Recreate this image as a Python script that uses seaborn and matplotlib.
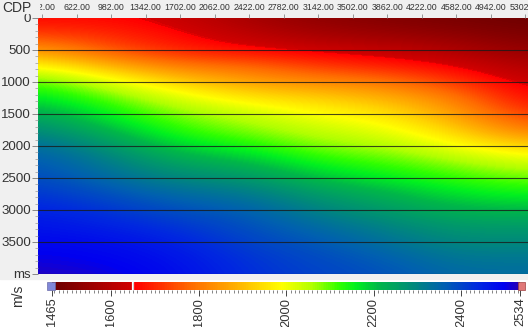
import numpy as np
import matplotlib
matplotlib.use("Agg")
import matplotlib.pyplot as plt
import seaborn as sns
from matplotlib.colors import LinearSegmentedColormap, Normalize
from matplotlib.patches import Rectangle
from matplotlib.ticker import MultipleLocator, FixedLocator

sns.set_theme(style="white")
plt.rcParams["font.family"] = ["Liberation Sans", "DejaVu Sans"]

# Velocity section: CDP columns x two-way time rows (ms), values in m/s
cdp = [262, 982, 1702, 2422, 3142, 3862, 4582, 5302]
time_ms = [0, 250, 500, 750, 1000, 1250, 1500, 1750, 2000,
           2250, 2500, 2750, 3000, 3250, 3500, 3750, 4000]
velocity = np.array([
    [1660, 1660, 1630, 1570, 1530, 1510, 1490, 1475],
    [1730, 1700, 1660, 1610, 1570, 1550, 1530, 1500],
    [1850, 1750, 1690, 1660, 1640, 1620, 1590, 1540],
    [1990, 1890, 1800, 1780, 1720, 1690, 1650, 1590],
    [2110, 2020, 1930, 1860, 1830, 1800, 1720, 1630],
    [2170, 2100, 2020, 1960, 1930, 1890, 1810, 1660],
    [2240, 2150, 2080, 2040, 1990, 1960, 1860, 1720],
    [2290, 2210, 2120, 2080, 2040, 2010, 1930, 1800],
    [2340, 2270, 2180, 2140, 2080, 2060, 2000, 1930],
    [2370, 2310, 2240, 2210, 2140, 2110, 2070, 2030],
    [2390, 2340, 2290, 2270, 2200, 2160, 2120, 2090],
    [2420, 2380, 2340, 2320, 2260, 2220, 2170, 2150],
    [2450, 2420, 2380, 2360, 2300, 2260, 2220, 2210],
    [2470, 2450, 2420, 2380, 2340, 2300, 2260, 2260],
    [2490, 2480, 2450, 2400, 2370, 2330, 2290, 2290],
    [2505, 2495, 2470, 2420, 2390, 2360, 2320, 2320],
    [2525, 2510, 2480, 2430, 2400, 2380, 2340, 2340],
])

vmin, vmax = 1465, 2534
cbar_ticks = [1465, 1600, 1800, 2000, 2200, 2400, 2534]
time_ticks = [0, 500, 1000, 1500, 2000, 2500, 3000, 3500, 4000]
time_labels = ["0", "500", "1000", "1500", "2000", "2500", "3000", "3500", "ms"]
cdp_ticks = [262, 622, 982, 1342, 1702, 2062, 2422, 2782, 3142,
             3502, 3862, 4222, 4582, 4942, 5302]

# Seismic velocity palette: dark red -> red -> orange -> yellow -> green -> teal -> blue
palette_stops = [
    (1465, "#6a0000"), (1648, "#d20000"), (1653, "#ff0000"),
    (1705, "#ff2a00"), (1780, "#ff6a00"), (1890, "#ffb400"),
    (1990, "#ffff00"), (2060, "#b0ff00"), (2120, "#30ff00"),
    (2160, "#00f020"), (2210, "#00b848"), (2290, "#008a7a"),
    (2360, "#0060b0"), (2440, "#0028e0"), (2500, "#0000f0"),
    (2534, "#2a00b0"),
]
cmap = LinearSegmentedColormap.from_list(
    "velocity", [((v - vmin) / (vmax - vmin), c) for v, c in palette_stops])
norm = Normalize(vmin, vmax)

W, H = 528, 327
BG = "#f0f0f0"
fig = plt.figure(figsize=(W / 100, H / 100), dpi=100, facecolor="white")

# light panel behind the section
fig.patches.append(Rectangle((0, (H - 279) / H), 1, 279 / H,
                             transform=fig.transFigure, color=BG, zorder=-5))

ax = fig.add_axes([38 / W, (H - 274) / H, 490 / W, 256 / H])
ax.set_zorder(2)
dx = cdp[1] - cdp[0]
dt = time_ms[1] - time_ms[0]
ax.imshow(velocity, cmap=cmap, norm=norm, aspect="auto", interpolation="bicubic",
          extent=[cdp[0] - dx / 2, cdp[-1] + dx / 2, time_ms[-1] + dt / 2, time_ms[0] - dt / 2])
ax.set_xlim(220, 5330)
ax.set_ylim(4000, 0)
for t in time_ticks[1:]:
    ax.axhline(t, color="#1a1a1a", lw=0.8, alpha=0.8)

for s in ax.spines.values():
    s.set_visible(False)

ax.xaxis.tick_top()
ax.set_xticks(cdp_ticks)
ax.set_xticklabels([f"{c:.2f}" for c in cdp_ticks], fontsize=6.3, color="#333333")
ax.tick_params(axis="x", which="major", length=3, width=0.6, color="#888888", pad=1)

ax.set_yticks(time_ticks)
ax.set_yticklabels(time_labels, fontsize=9.6, color="#333333")
ax.yaxis.set_minor_locator(MultipleLocator(100))
ax.tick_params(axis="y", which="major", left=True, length=4, width=0.7, color="#888888", pad=1)
ax.tick_params(axis="y", which="minor", left=True, length=2, width=0.5, color="#999999")

# corner label sits on a plain block over the first trace number
fig.patches.append(Rectangle((0, (H - 13) / H), 38.5 / W, 13 / H,
                             transform=fig.transFigure, color=BG, zorder=5))
fig.text(2 / W, (H - 8) / H, "CDP", fontsize=10, color="#333333", va="center", ha="left",
         zorder=10)

# colour scale strip
cax = fig.add_axes([52 / W, (H - 290) / H, 468 / W, 8 / H])
cb = fig.colorbar(matplotlib.cm.ScalarMappable(norm=norm, cmap=cmap), cax=cax,
                  orientation="horizontal")
cb.outline.set_visible(False)
cb.set_ticks(cbar_ticks)
cb.set_ticklabels([str(v) for v in cbar_ticks])
cax.xaxis.set_minor_locator(FixedLocator(list(range(1470, 2534, 10))))
cax.tick_params(axis="x", which="major", length=4, width=0.7, color="#444444", pad=1.5,
                labelsize=9.3, labelcolor="#333333", labelrotation=90)
cax.tick_params(axis="x", which="minor", length=2.5, width=0.5, color="#555555")
cax.axvline(1650, color="white", lw=1.6)
cax.axvline(1650, color="#aaaaaa", lw=0.4)

# range handles at both ends of the scale
fig.patches.append(Rectangle((47 / W, (H - 290) / H), 8 / W, 8 / H,
                             transform=fig.transFigure, facecolor="#8088d8",
                             edgecolor="#6a6aa8", lw=0.5, zorder=5))
fig.patches.append(Rectangle((518 / W, (H - 290) / H), 7 / W, 8 / H,
                             transform=fig.transFigure, facecolor="#e07878",
                             edgecolor="#a04040", lw=0.5, zorder=5))

fig.text(18 / W, (H - 296) / H, "m/s", fontsize=10, color="#333333",
         rotation=90, ha="center", va="center")

fig.savefig("out.png", dpi=100)
